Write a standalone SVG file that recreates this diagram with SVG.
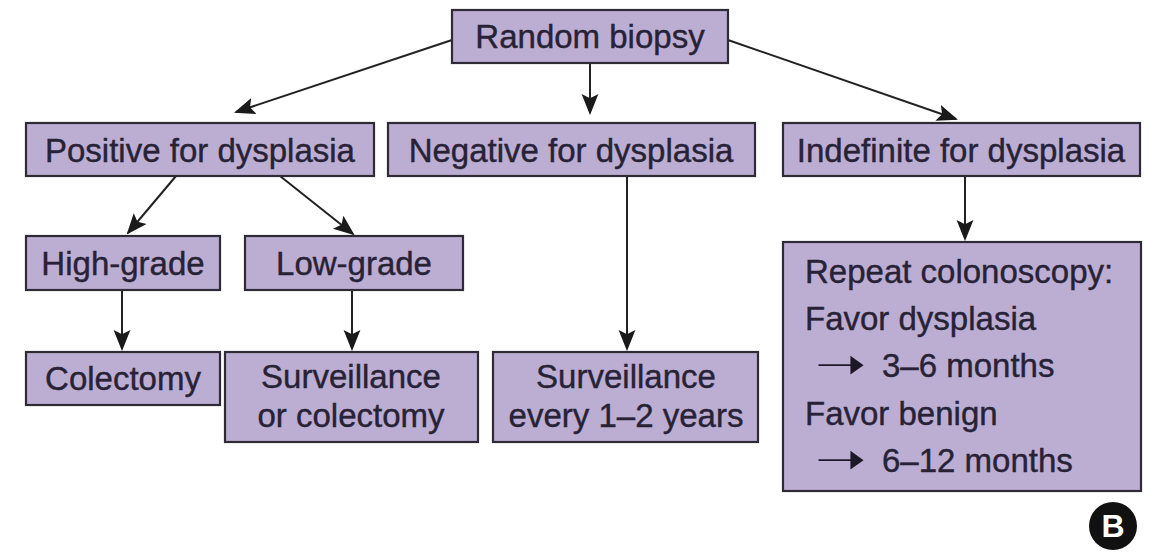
<svg xmlns="http://www.w3.org/2000/svg" width="1150" height="555" viewBox="0 0 1150 555">
  <style>
    .box { fill: #bcadd2; stroke: #2e2b36; stroke-width: 2.2; }
    .lbl { font-family: "Liberation Sans", Arial, sans-serif; font-size: 33px; fill: #272236; stroke: #272236; stroke-width: 0.4; }
    .mid { text-anchor: middle; }
    .arw { font-family: "DejaVu Sans", sans-serif; font-size: 44px; fill: #1c1828; }
    .conn { stroke: #222; stroke-width: 2; fill: none; marker-end: url(#head); }
  </style>
  <defs>
    <marker id="head" viewBox="0 0 20 20" refX="18" refY="10" markerWidth="21" markerHeight="21" markerUnits="userSpaceOnUse" orient="auto">
      <path d="M0,2 L20,10 L0,18 L4,10 Z" fill="#1a1a1a"/>
    </marker>
  </defs>
  <rect width="1150" height="555" fill="#ffffff"/>

  <!-- connectors -->
  <g id="connectors">
    <line class="conn" x1="452" y1="40" x2="236" y2="112"/>
    <line class="conn" x1="590" y1="63" x2="590" y2="113"/>
    <line class="conn" x1="728" y1="40" x2="956" y2="119"/>
    <line class="conn" x1="176" y1="176" x2="128" y2="233"/>
    <line class="conn" x1="280" y1="176" x2="353" y2="234"/>
    <line class="conn" x1="122" y1="290" x2="122" y2="349"/>
    <line class="conn" x1="352" y1="290" x2="352" y2="349"/>
    <line class="conn" x1="627" y1="176" x2="627" y2="349"/>
    <line class="conn" x1="965" y1="176" x2="965" y2="239"/>
  </g>

  <g id="random-biopsy">
    <rect class="box" x="452" y="10" width="276" height="53"/>
    <text class="lbl mid" x="590" y="48">Random biopsy</text>
  </g>
  <g id="positive">
    <rect class="box" x="26" y="123" width="348" height="53"/>
    <text class="lbl mid" x="200" y="162">Positive for dysplasia</text>
  </g>
  <g id="negative">
    <rect class="box" x="388" y="123" width="367" height="53"/>
    <text class="lbl mid" x="571" y="162">Negative for dysplasia</text>
  </g>
  <g id="indefinite">
    <rect class="box" x="783" y="123" width="357" height="53"/>
    <text class="lbl mid" x="961" y="162">Indefinite for dysplasia</text>
  </g>
  <g id="high-grade">
    <rect class="box" x="26" y="236" width="194" height="54"/>
    <text class="lbl mid" x="123" y="275">High-grade</text>
  </g>
  <g id="low-grade">
    <rect class="box" x="245" y="236" width="218" height="54"/>
    <text class="lbl mid" x="354" y="275">Low-grade</text>
  </g>
  <g id="colectomy">
    <rect class="box" x="26" y="352" width="194" height="53"/>
    <text class="lbl mid" x="123" y="390">Colectomy</text>
  </g>
  <g id="surveillance-or-colectomy">
    <rect class="box" x="225" y="352" width="253" height="90"/>
    <text class="lbl mid" x="351" y="388">Surveillance</text>
    <text class="lbl mid" x="351" y="427">or colectomy</text>
  </g>
  <g id="surveillance-years">
    <rect class="box" x="493" y="352" width="265" height="90"/>
    <text class="lbl mid" x="626" y="388">Surveillance</text>
    <text class="lbl mid" x="626" y="427">every 1–2 years</text>
  </g>
  <g id="repeat-colonoscopy">
    <rect class="box" x="783" y="242" width="358" height="249"/>
    <text class="lbl" x="805" y="283">Repeat colonoscopy:</text>
    <text class="lbl" x="805" y="330">Favor dysplasia</text>
    <text class="arw" transform="translate(815,379) scale(1.4,1)">➝</text>
    <text class="lbl" x="882" y="377">3–6 months</text>
    <text class="lbl" x="805" y="425">Favor benign</text>
    <text class="arw" transform="translate(815,474) scale(1.4,1)">➝</text>
    <text class="lbl" x="882" y="472">6–12 months</text>
  </g>
  <g id="panel-label">
    <circle cx="1113" cy="526" r="24" fill="#111"/>
    <text x="1113" y="537" text-anchor="middle" font-family="Liberation Sans, Arial, sans-serif" font-weight="bold" font-size="32" fill="#fff">B</text>
  </g>
</svg>
